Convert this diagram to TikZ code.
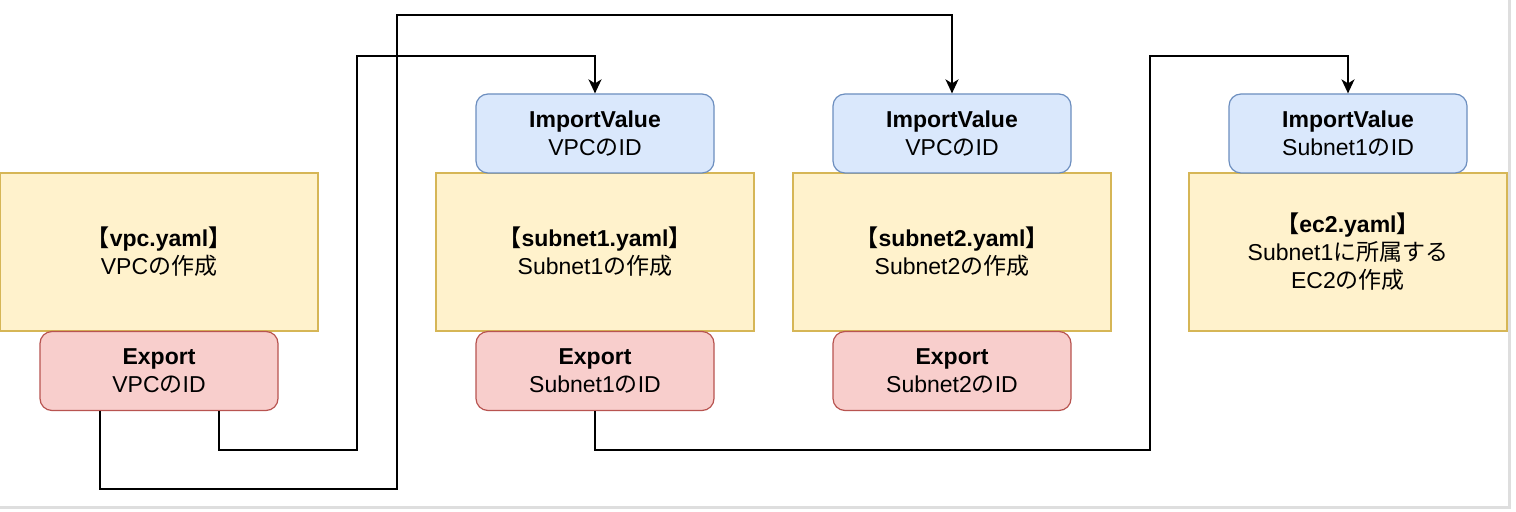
\documentclass[tikz,border=0pt]{standalone}
\usepackage{fontspec}
\setmainfont{Liberation Sans}
\newfontfamily\jpfont{Noto Sans CJK JP}
\newcommand{\jtext}[1]{{\jpfont #1}}
\usetikzlibrary{arrows.meta}
\definecolor{ylwfill}{HTML}{FFF2CC}
\definecolor{ylwdraw}{HTML}{D6B656}
\definecolor{blufill}{HTML}{DAE8FC}
\definecolor{bludraw}{HTML}{6C8EBF}
\definecolor{redfill}{HTML}{F8CECC}
\definecolor{reddraw}{HTML}{B85450}
\definecolor{framegray}{HTML}{DEDEDE}
\tikzset{yml/.style = {rectangle, fill=ylwfill, draw=ylwdraw, line width=0.6pt, minimum width=159pt, minimum height=79pt, inner sep=0pt, align=center},
           imp/.style = {rectangle, rounded corners=6pt, fill=blufill, draw=bludraw, line width=0.6pt, minimum width=119pt, minimum height=39.5pt, inner sep=0pt, align=center},
           exp/.style = {rectangle, rounded corners=6pt, fill=redfill, draw=reddraw, line width=0.6pt, minimum width=119pt, minimum height=39.5pt, inner sep=0pt, align=center},
           wire/.style = {line width=1pt, black}}

\begin{document}
\begin{tikzpicture}[x=0.5pt, y=-0.5pt, >={Stealth[length=7pt, width=6.5pt, inset=2pt]}, font=\fontsize{11.5}{14}\selectfont]
    \useasboundingbox[fill=white] (0,0) rectangle (1516,512);
    \draw[framegray, line width=1.5pt] (1509.5,0) -- (1509.5,507.5) -- (0,507.5);
    \node[yml] (vpc)  at (159,252)    {\textbf{\jtext{【}vpc.yaml\jtext{】}}\\VPC\jtext{の作成}};
    \node[yml] (sub1) at (595,252)    {\textbf{\jtext{【}subnet1.yaml\jtext{】}}\\Subnet1\jtext{の作成}};
    \node[yml] (sub2) at (952,252)    {\textbf{\jtext{【}subnet2.yaml\jtext{】}}\\Subnet2\jtext{の作成}};
    \node[yml] (ec2)  at (1348,252)   {\textbf{\jtext{【}ec2.yaml\jtext{】}}\\Subnet1\jtext{に所属する}\\EC2\jtext{の作成}};
    \node[exp] (vpcex)  at (159,371)   {\textbf{Export}\\VPC\jtext{の}ID};
    \node[imp] (sub1im) at (595,133.5) {\textbf{ImportValue}\\VPC\jtext{の}ID};
    \node[exp] (sub1ex) at (595,371)   {\textbf{Export}\\Subnet1\jtext{の}ID};
    \node[imp] (sub2im) at (952,133.5) {\textbf{ImportValue}\\VPC\jtext{の}ID};
    \node[exp] (sub2ex) at (952,371)   {\textbf{Export}\\Subnet2\jtext{の}ID};
    \node[imp] (ec2im)  at (1348,133.5) {\textbf{ImportValue}\\Subnet1\jtext{の}ID};
    \draw[wire, ->] ([xshift=30pt]vpcex.south) |- (357,450) -- (357,56) -| (sub1im.north);
    \draw[wire, ->] ([xshift=-29.5pt]vpcex.south) |- (397,489) -- (397,15) -| (sub2im.north);
    \draw[wire, ->] (sub1ex.south) |- (1150,450) -- (1150,56) -| (ec2im.north);
  \end{tikzpicture}
\end{document}
